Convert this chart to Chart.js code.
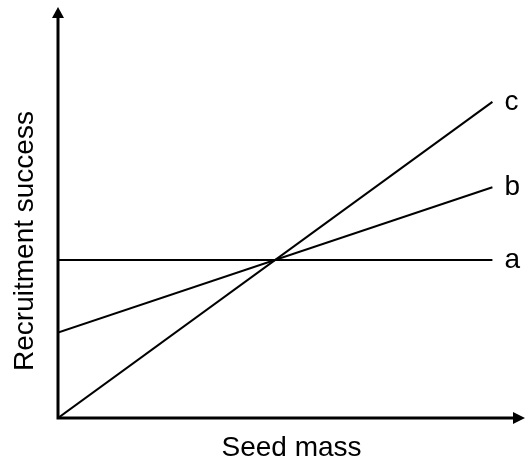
<!DOCTYPE html>
<html lang="en">
<head>
<meta charset="UTF-8" />
<title>Recruitment success vs seed mass</title>
<style>
  html, body { margin: 0; padding: 0; background: #fff; }
  #wrap { width: 531px; height: 464px; }
</style>
</head>
<body>
<div id="wrap"><canvas id="chart" width="531" height="464"></canvas></div>
<script src="https://cdn.jsdelivr.net/npm/chart.js"></script>
<script>
// seed mass (x) from left edge to right end of the lines
const xValues = [0, 10];
const seriesNames = ['a', 'b', 'c'];
const seriesA = [5, 5];
const seriesB = [2.7, 7.3];
const seriesC = [0, 10];
const xTitle = 'Seed mass';
const yTitle = 'Recruitment success';

const FONT = '"Liberation Sans", Arial, sans-serif';

function pts(ys) {
  return ys.map((y, i) => ({ x: xValues[i], y: y }));
}

// axes with arrow heads, axis titles and line labels
const diagramPlugin = {
  id: 'diagram',
  afterDatasetsDraw(chart) {
    const c = chart.ctx;
    const xs = chart.scales.x, ys = chart.scales.y;
    const x0 = xs.getPixelForValue(0), y0 = ys.getPixelForValue(0);
    const xEnd = xs.right, yEnd = ys.top;
    c.save();
    c.strokeStyle = '#000';
    c.fillStyle = '#000';
    c.lineWidth = 3;
    c.lineCap = 'butt';
    c.beginPath();
    c.moveTo(x0, y0 + 1.5);
    c.lineTo(x0, yEnd + 8);
    c.moveTo(x0 - 1.5, y0);
    c.lineTo(xEnd - 8, y0);
    c.stroke();
    // arrow heads
    c.beginPath();
    c.moveTo(x0, yEnd);
    c.lineTo(x0 - 6, yEnd + 11);
    c.lineTo(x0 + 6, yEnd + 11);
    c.closePath();
    c.fill();
    c.beginPath();
    c.moveTo(xEnd, y0);
    c.lineTo(xEnd - 12, y0 - 6);
    c.lineTo(xEnd - 12, y0 + 6);
    c.closePath();
    c.fill();

    // line labels
    c.font = '28px ' + FONT;
    c.textBaseline = 'middle';
    c.textAlign = 'left';
    chart.data.datasets.forEach((ds, i) => {
      const meta = chart.getDatasetMeta(i);
      const last = meta.data[meta.data.length - 1];
      c.fillText(ds.label, last.x + 12, last.y);
    });

    // axis titles
    c.textAlign = 'center';
    c.textBaseline = 'alphabetic';
    c.fillText(xTitle, (x0 + xEnd) / 2, 456);
    c.translate(33, 241);
    c.rotate(-Math.PI / 2);
    c.fillText(yTitle, 0, 0);
    c.restore();
  }
};

const datasets = [seriesA, seriesB, seriesC].map((s, i) => ({
  label: seriesNames[i],
  data: pts(s),
  borderColor: '#000',
  borderWidth: 2,
  pointRadius: 0,
  fill: false,
  tension: 0
}));

new Chart(document.getElementById('chart'), {
  type: 'line',
  data: { datasets: datasets },
  options: {
    responsive: false,
    animation: false,
    layout: { padding: { left: 58, right: 6, top: 7, bottom: 46 } },
    plugins: { legend: { display: false }, tooltip: { enabled: false } },
    scales: {
      x: { type: 'linear', min: 0, max: 10.75, display: false },
      y: { type: 'linear', min: 0, max: 13, display: false }
    }
  },
  plugins: [diagramPlugin]
});
</script>
</body>
</html>
